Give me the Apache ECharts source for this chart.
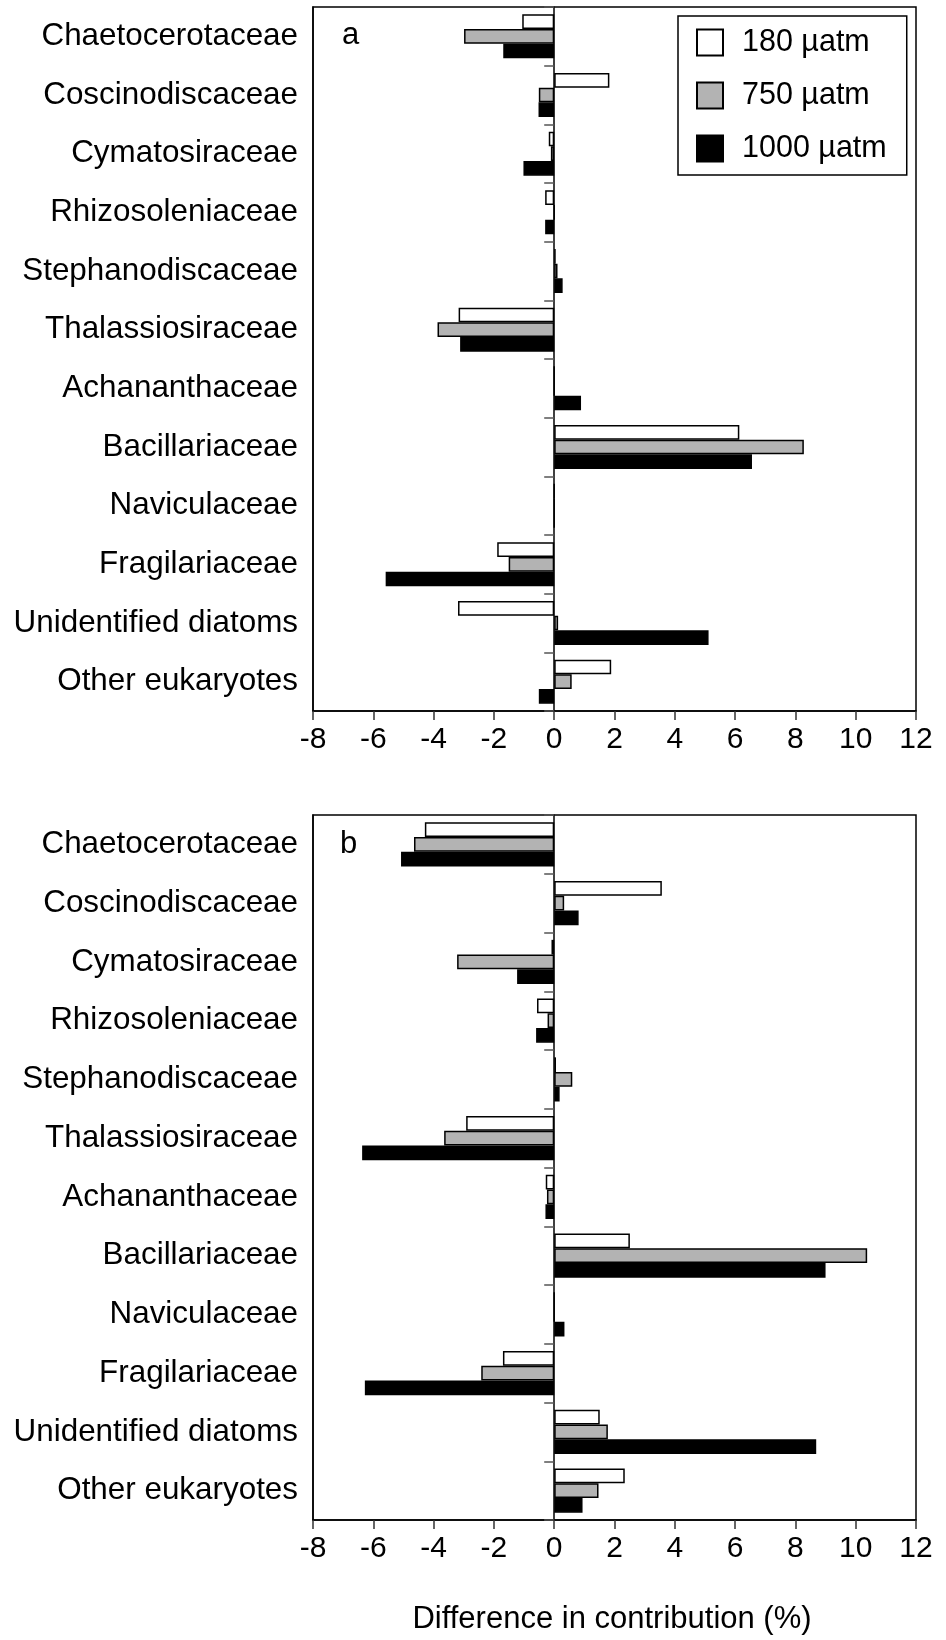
<!DOCTYPE html>
<html>
<head>
<meta charset="utf-8">
<script src="https://cdn.jsdelivr.net/npm/echarts@6/dist/echarts.min.js"></script>
<style>
  html, body { margin: 0; padding: 0; background: #fff; }
  #chart { width: 946px; height: 1640px; }
</style>
</head>
<body>
<div id="chart"></div>
<script>
const categories = ['Chaetocerotaceae', 'Coscinodiscaceae', 'Cymatosiraceae', 'Rhizosoleniaceae',
  'Stephanodiscaceae', 'Thalassiosiraceae', 'Achananthaceae', 'Bacillariaceae', 'Naviculaceae',
  'Fragilariaceae', 'Unidentified diatoms', 'Other eukaryotes'];
const seriesNames = ['180 µatm', '750 µatm', '1000 µatm'];
const xTicks = { min: -8, max: 12, interval: 2 };
const axisTitle = 'Difference in contribution (%)';
const panelLabels = ['a', 'b'];

// Panel a
const a180  = [-1.06,  1.83, -0.18, -0.30, 0.05, -3.17, 0.00, 6.14, 0.00, -1.89, -3.19,  1.89];
const a750  = [-2.99, -0.51, -0.11,  0.00, 0.11, -3.87, 0.00, 8.28, 0.00, -1.51,  0.13,  0.58];
const a1000 = [-1.69, -0.52, -1.02, -0.30, 0.28, -3.12, 0.89, 6.56, 0.00, -5.59,  5.12, -0.51];
// Panel b
const b180  = [-4.29, 3.57, -0.09, -0.57, 0.06, -2.92, -0.28,  2.51, 0.00, -1.70, 1.51, 2.34];
const b750  = [-4.65, 0.33, -3.22, -0.22, 0.60, -3.65, -0.24, 10.38, 0.00, -2.42, 1.78, 1.47];
const b1000 = [-5.08, 0.81, -1.23, -0.60, 0.18, -6.37, -0.29,  9.00, 0.34, -6.28, 8.69, 0.94];

const FONT = "'Liberation Sans', Arial, Helvetica, sans-serif";
const fills = ['#ffffff', '#b3b3b3', '#000000'];

const grids = [
  { left: 313, top: 7, width: 603, height: 704 },
  { left: 313, top: 815, width: 603, height: 705 }
].map(g => Object.assign({ show: true, borderColor: '#000', borderWidth: 1.5, backgroundColor: 'transparent' }, g));

const xAxes = [0, 1].map(i => ({
  gridIndex: i, type: 'value', min: xTicks.min, max: xTicks.max, interval: xTicks.interval,
  splitLine: { show: false },
  axisLine: { show: true, onZero: false, lineStyle: { color: '#000', width: 1.5 } },
  axisTick: { show: true, length: 9, lineStyle: { color: '#333', width: 1.5 } },
  axisLabel: { color: '#000', fontSize: 30, fontFamily: FONT, margin: 14 }
}));

const yAxes = [];
[0, 1].forEach(i => {
  yAxes.push({
    gridIndex: i, type: 'category', data: categories, inverse: true, position: 'left',
    axisLine: { show: true, onZero: false, lineStyle: { color: '#000', width: 1.5 } },
    axisTick: { show: false },
    axisLabel: { color: '#000', fontSize: 31.4, fontFamily: FONT, margin: 15 }
  });
  yAxes.push({
    gridIndex: i, type: 'category', data: categories, inverse: true, position: 'left',
    axisLine: { show: true, onZero: true, lineStyle: { color: '#000', width: 1.5 } },
    axisTick: { show: true, length: 10, lineStyle: { color: '#555', width: 1.5 } },
    axisLabel: { show: false }
  });
});

const panelData = [[a180, a750, a1000], [b180, b750, b1000]];
const series = [];
panelData.forEach((sets, p) => {
  sets.forEach((vals, k) => {
    series.push({
      name: seriesNames[k], type: 'bar', xAxisIndex: p, yAxisIndex: p * 2,
      data: vals, barGap: '0%', barCategoryGap: '25%',
      itemStyle: { color: fills[k], borderColor: '#000', borderWidth: 1.5 },
      emphasis: { disabled: true }, animation: false
    });
  });
});

const chart = echarts.init(document.getElementById('chart'), null, { renderer: 'canvas' });
chart.setOption({
  animation: false,
  backgroundColor: '#fff',
  grid: grids,
  xAxis: xAxes,
  yAxis: yAxes,
  legend: {
    data: seriesNames, orient: 'vertical', left: 678, top: 16,
    itemWidth: 26, itemHeight: 26, itemGap: 22,
    padding: [11, 20, 11, 18],
    borderColor: '#000', borderWidth: 1.5, backgroundColor: '#fff',
    icon: 'rect',
    selectedMode: false,
    textStyle: { color: '#000', fontSize: 30.5, fontFamily: FONT, padding: [0, 0, 0, 14] }
  },
  graphic: [
    { type: 'text', left: 342, top: 20, style: { text: panelLabels[0], fontSize: 31, fontFamily: FONT, fill: '#000' } },
    { type: 'text', left: 340, top: 829, style: { text: panelLabels[1], fontSize: 31, fontFamily: FONT, fill: '#000' } },
    { type: 'text', x: 612, y: 1604, style: { text: axisTitle, fontSize: 31, fontFamily: FONT, fill: '#000', textAlign: 'center', textVerticalAlign: 'top' } }
  ],
  series: series
});
</script>
</body>
</html>
